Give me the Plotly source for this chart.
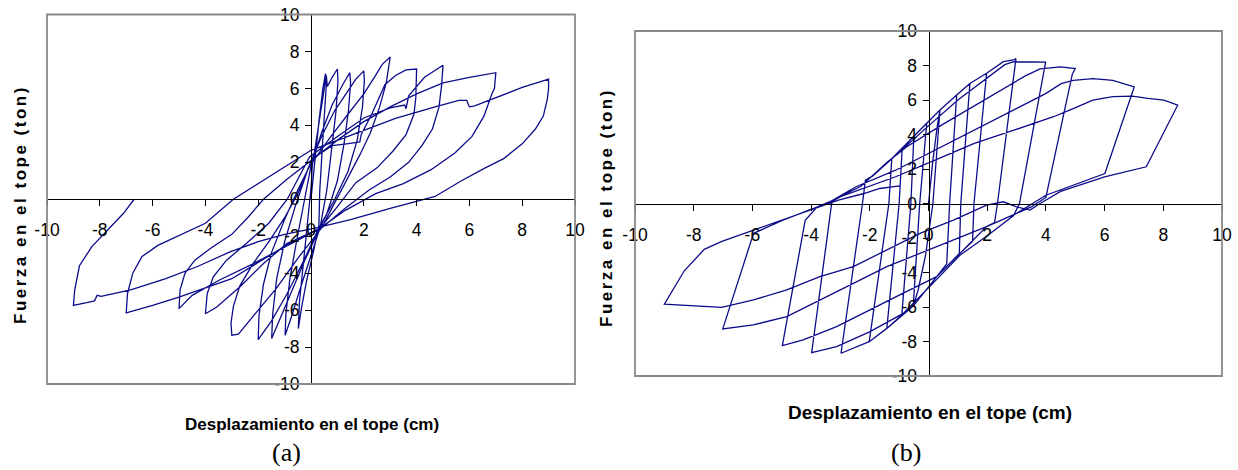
import plotly.graph_objects as go

# ---------------- data ----------------
tick_values = [-10, -8, -6, -4, -2, 0, 2, 4, 6, 8, 10]
tick_labels = ["-10", "-8", "-6", "-4", "-2", "0", "2", "4", "6", "8", "10"]

# Panel (a): displacement (cm) / force (ton), chronological path
a_disp = [
    0, 0.15, 0.3, 0.45, 0.55,
    0.58, 0.52, 0.42, 0.33, 0.3, 0.1, -0.15, -0.35, -0.48,
    -0.44, -0.3, -0.12, 0.0, 0.05,
    0.3, 0.5, 0.58, 0.62, 0.8, 1.0,
    1.02, 0.95, 0.8, 0.6, 0.35, 0.0, -0.4, -0.75, -0.98,
    -0.95, -0.8, -0.55, -0.25, 0.0,
    0.4, 0.8, 1.2, 1.47,
    1.5, 1.42, 1.25, 1.0, 0.6, 0.35, -0.2, -0.7, -1.15, -1.49,
    -1.45, -1.3, -1.0, -0.6, -0.1,
    0.4, 0.9, 1.4, 1.7, 2.0,
    2.02, 1.95, 1.75, 1.4, 0.9, 0.25, -0.3, -0.9, -1.5, -2.0,
    -1.97, -1.8, -1.5, -1.0, -0.5, -0.05,
    0.7, 1.4, 2.0, 2.4, 2.7, 3.0,
    2.85, 2.6, 2.25, 1.85, 1.4, 0.9, 0.4, -0.5, -1.3, -2.0, -2.5, -2.75, -3.0,
    -3.03, -2.94, -2.7, -2.2, -1.55, -1.0, -0.5, 0.05,
    0.8, 1.35, 1.85, 1.9, 2.3, 2.8, 3.2, 3.6, 4.0,
    3.97, 3.9, 3.6, 3.1, 2.5, 1.7, 1.0, 0.3, -0.92, -1.8, -2.69, -3.57, -4.0,
    -3.93, -3.7, -3.2, -2.45, -1.6, -0.9, -0.05,
    1.0, 2.0, 3.0, 3.55, 3.6, 3.7, 4.3, 5.0,
    4.95, 4.85, 4.6, 4.2, 3.7, 3.0, 2.2, 1.2, 0.45, -1.0, -2.2, -3.5, -4.5, -5.0,
    -4.96, -4.77, -4.4, -3.8, -3.0, -2.4, -1.8, -0.9, 0.0,
    1.0, 2.0, 3.0, 4.0, 5.0, 6.0, 6.6, 7.0,
    6.95, 6.85, 6.55, 6.1, 5.45, 4.55, 3.5, 2.45, 1.3, 0.3, -0.6, -1.5, -3.0, -5.0, -6.0, -7.0,
    -6.95, -6.75, -6.4, -5.8, -5.0, -4.0, -2.94, -1.5, 0.0,
    1.7, 3.2, 4.7, 5.6, 5.9, 6.0, 6.2, 6.9, 8.0, 9.0,
    9.0, 8.95, 8.8, 8.5, 8.0, 7.3, 6.6, 5.7, 4.7, 3.0, 1.5, 0.2,
    -1.0, -2.0, -3.07, -4.3, -5.5, -6.83, -7.95, -8.1, -8.2, -8.5, -9.0,
    -8.95, -8.77, -8.3, -7.7, -7.1, -6.7,
]
a_force = [
    0, 2.2, 4.2, 6.0, 6.8,
    6.2, 4.6, 2.6, 0.4, -1.4, -2.8, -4.3, -5.8, -7.0,
    -5.6, -3.5, -1.2, 0.6, 1.8,
    4.0, 5.8, 6.7, 6.1, 6.6, 7.05,
    6.4, 4.8, 2.8, 0.5, -1.5, -3.0, -4.8, -6.4, -7.36,
    -6.2, -4.3, -2.3, -0.1, 1.8,
    3.6, 5.1, 6.2, 6.85,
    6.3, 4.8, 3.0, 1.0, -0.8, -1.5, -3.2, -4.9, -6.4, -7.54,
    -6.2, -4.3, -2.3, -0.4, 1.7,
    3.4, 4.8, 5.9, 6.5, 6.95,
    6.4, 5.0, 3.2, 1.5, 0.0, -1.7, -3.4, -5.1, -6.6, -7.6,
    -6.3, -4.6, -2.9, -1.1, 0.5, 1.8,
    3.3, 4.6, 5.7, 6.6, 7.3, 7.7,
    6.3, 5.0, 3.6, 2.4, 1.2, -0.2, -1.55, -3.2, -4.8, -6.0, -6.9, -7.3, -7.36,
    -6.7, -5.8, -4.7, -3.5, -2.2, -1.0, 0.3, 2.2,
    2.9, 3.0, 3.1, 3.5, 4.6, 6.2, 6.7, 7.0, 7.05,
    5.5, 4.6, 3.5, 2.6, 1.7, 0.9, -0.4, -1.65, -2.4, -3.48, -4.74, -5.83, -6.2,
    -5.1, -4.2, -3.3, -2.4, -1.3, 0.0, 2.3,
    3.4, 4.4, 4.95, 5.1, 4.9, 5.6, 6.6, 7.25,
    6.2, 5.0, 3.8, 2.9, 2.0, 1.2, 0.5, -0.6, -1.5, -2.6, -3.5, -4.4, -5.2, -5.92,
    -4.9, -4.0, -3.3, -2.65, -1.9, -1.0, 0.0, 1.1, 2.1,
    3.2, 4.2, 5.0, 5.7, 6.3, 6.6, 6.75, 6.85,
    6.0, 5.7, 4.5, 3.4, 2.5, 1.6, 0.85, 0.3, -0.6, -1.6, -2.2, -3.0, -4.3, -5.3, -5.75, -6.15,
    -5.1, -4.0, -3.1, -2.5, -1.95, -1.3, 0.0, 1.3, 2.65,
    3.57, 4.38, 5.0, 5.35, 5.35, 5.0, 5.05, 5.45, 6.05, 6.5,
    6.0, 5.4, 4.5, 3.8, 3.0, 2.2, 1.7, 1.0, 0.15, -0.5, -1.1, -1.55,
    -1.9, -2.3, -2.85, -3.64, -4.3, -4.9, -5.26, -5.2, -5.5, -5.6, -5.75,
    -4.9, -3.6, -2.56, -1.66, -0.76, 0.0,
]

# Panel (b): displacement (cm) / force (ton), chronological path
b_disp = [
    0, 0.15, 0.3, 0.39,
    0.15, -0.1, -0.35, -0.52,
    -0.3, -0.15, -0.06, 0.39, 0.7, 0.96,
    0.72, 0.62, 0.28, -0.52, -0.91,
    -0.6, -0.5, -0.06, 0.39, 0.96, 1.41,
    1.1, 1.05, 0.28, -0.52, -0.91, -1.42,
    -1.0, -0.9, -0.63, -0.06, 0.39, 0.96, 1.41, 1.98,
    1.55, 1.5, 1.07, 0.28, -0.52, -0.91, -1.42, -2.02,
    -1.35, -1.25, -0.63, -0.06, 0.39, 0.96, 1.41, 1.98, 2.55, 2.89, 2.98,
    2.35, 2.25, 1.98, 1.07, 0.28, -0.52, -1.42, -2.02, -2.98,
    -2.25, -2.15, -1.9, -1.0, 0.0, 1.0, 2.0, 2.6, 2.9, 3.99,
    3.1, 2.9, 1.98, 1.07, 0.28, -0.86, -1.99, -3.13, -3.98,
    -3.3, -3.2, -2.79, -2.3, -1.4, -0.74, 0.5, 1.5, 2.5, 3.3, 3.8, 4.5, 5.0,
    4.9, 4.0, 3.5, 3.0, 1.98, 1.07, 0.28, -0.86, -1.99, -3.13, -4.27, -4.98,
    -4.2, -3.8, -3.3, -2.47, -1.12, 0.22, 1.56, 2.91, 3.99, 4.52, 4.93, 5.6, 6.28, 7.01,
    6.01, 4.0, 3.0, 1.98, 0.85, -0.29, -1.42, -2.56, -3.7, -4.83, -5.97, -7.01,
    -5.96, -5.0, -4.08, -3.3, -3.0, -1.12, 0.22, 1.56, 2.91, 4.26, 4.93, 5.6, 6.28, 6.95, 7.48, 8.02, 8.49,
    7.42, 6.0, 4.5, 3.8, 3.46, 3.0, 2.55, 1.98, 0.85, -0.29, -1.42, -2.56, -3.7, -4.83, -5.96, -7.05, -9.0,
    -8.32, -7.64, -7.04, -5.96, -4.08, -3.07, -2.2, -1.66, -0.99,
]
b_force = [
    0, 2.5, 4.5, 5.42,
    0.0, -3.0, -5.0, -5.95,
    0.0, 3.0, 4.65, 5.42, 5.9, 6.29,
    0.0, -3.5, -4.24, -5.95, -6.46,
    0.0, 3.9, 4.65, 5.42, 6.29, 6.96,
    0.0, -2.9, -4.24, -5.95, -6.46, -7.24,
    0.0, 3.1, 3.68, 4.65, 5.42, 6.29, 6.96, 7.55,
    0.0, -2.2, -2.89, -4.24, -5.95, -6.46, -7.24, -8.01,
    0.0, 2.6, 3.68, 4.65, 5.42, 6.29, 6.96, 7.55, 8.22, 8.32, 8.4,
    0.0, -1.1, -1.34, -2.89, -4.24, -5.95, -7.24, -8.01, -8.68,
    0.0, 1.35, 1.6, 3.0, 4.5, 6.0, 7.3, 8.05, 8.22, 8.2,
    0.0, -0.7, -1.9, -3.0, -4.4, -6.37, -7.43, -8.3, -8.65,
    0.0, 0.25, 0.59, 1.0, 2.4, 3.29, 4.6, 5.6, 6.6, 7.4, 7.8, 7.92, 7.82,
    7.5, 0.35, -0.2, -0.57, -1.34, -2.89, -4.24, -5.2, -6.17, -7.14, -7.91, -8.24,
    -0.97, -0.2, 0.15, 0.97, 1.93, 3.09, 4.25, 5.41, 6.37, 6.95, 7.14, 7.24, 7.14, 6.76,
    1.74, 0.48, -0.57, -1.34, -2.12, -2.89, -3.66, -4.63, -5.59, -6.56, -7.04, -7.27,
    -1.73, -1.0, -0.39, 0.1, 0.4, 1.55, 2.52, 3.48, 4.25, 5.03, 5.5, 5.99, 6.19, 6.22, 6.09, 5.99, 5.7,
    2.13, 1.55, 0.7, 0.0, -0.38, -0.19, 0.1, -0.09, -0.96, -1.73, -2.7, -3.66, -4.24, -5.01, -5.59, -6.02, -5.83,
    -3.9, -2.66, -2.2, -1.54, -0.39, 0.2, 0.58, 0.87, 1.02,
]

x_title = "Desplazamiento en el tope (cm)"
y_title = "Fuerza en el tope (ton)"
panel_labels = ["(a)", "(b)"]

# ---------------- layout geometry ----------------
W, H = 1238, 470
def px_x(p): return p / W
def px_y(p): return 1 - p / H

a_dom_x = [px_x(47), px_x(575)]
a_dom_y = [px_y(384), px_y(14.5)]
b_dom_x = [px_x(635), px_x(1222)]
b_dom_y = [px_y(376), px_y(31)]

LINE = "#0c0c8a"
SANS = "Liberation Sans, Arial, sans-serif"
tick_font = dict(family=SANS, size=17.5, color="black")

fig = go.Figure()
fig.add_trace(go.Scatter(x=a_disp, y=a_force, mode="lines",
                         line=dict(color=LINE, width=1.3), xaxis="x", yaxis="y",
                         showlegend=False, hoverinfo="skip"))
fig.add_trace(go.Scatter(x=b_disp, y=b_force, mode="lines",
                         line=dict(color=LINE, width=1.3), xaxis="x2", yaxis="y2",
                         showlegend=False, hoverinfo="skip"))

def axis(dom, pos, standoff):
    return dict(domain=dom, range=[-10, 10], anchor="free", position=pos,
                showline=True, linecolor="black", linewidth=1,
                ticks="outside", ticklen=6, tickwidth=1, tickcolor="black",
                tickvals=tick_values, ticktext=tick_labels, tickfont=tick_font,
                showgrid=False, zeroline=False, fixedrange=True, automargin=False,
                ticklabelstandoff=standoff)

fig.update_layout(
    width=W, height=H,
    margin=dict(l=0, r=0, t=0, b=0, pad=0, autoexpand=False),
    paper_bgcolor="white", plot_bgcolor="white",
    xaxis=axis(a_dom_x, sum(a_dom_y) / 2, 9),
    yaxis=axis(a_dom_y, sum(a_dom_x) / 2, 2),
    xaxis2=axis(b_dom_x, sum(b_dom_y) / 2, 9),
    yaxis2=axis(b_dom_y, sum(b_dom_x) / 2, 2),
)

frame = dict(type="rect", x0=0, x1=1, y0=0, y1=1, layer="above",
             line=dict(color="#8a8a8a", width=1.8))
fig.add_shape(xref="x domain", yref="y domain", **frame)
fig.add_shape(xref="x2 domain", yref="y2 domain", **frame)

ytitle_html = '<span style="letter-spacing:2.5px">' + y_title + '</span>'
title_font = dict(family=SANS, size=17, color="black")

ann = [
    dict(x=px_x(20), y=px_y(205), text="<b>" + ytitle_html + "</b>", textangle=-90,
         font=title_font),
    dict(x=px_x(606), y=px_y(208), text="<b>" + ytitle_html + "</b>", textangle=-90,
         font=title_font),
    dict(x=px_x(312), y=px_y(424), text="<b>" + x_title + "</b>",
         font=dict(family=SANS, size=17, color="black")),
    dict(x=px_x(930), y=px_y(412), text="<b>" + x_title + "</b>",
         font=dict(family=SANS, size=19, color="black")),
    dict(x=px_x(286), y=px_y(452), text=panel_labels[0],
         font=dict(family="Liberation Serif, Times New Roman, serif", size=26, color="black")),
    dict(x=px_x(906), y=px_y(452), text=panel_labels[1],
         font=dict(family="Liberation Serif, Times New Roman, serif", size=26, color="black")),
]
for a in ann:
    a.update(xref="paper", yref="paper", showarrow=False, xanchor="center", yanchor="middle")
fig.update_layout(annotations=ann)

fig.write_html("out.html", config={"displayModeBar": False},
               post_script="document.body.style.margin='0px';document.body.style.overflow='hidden';")
